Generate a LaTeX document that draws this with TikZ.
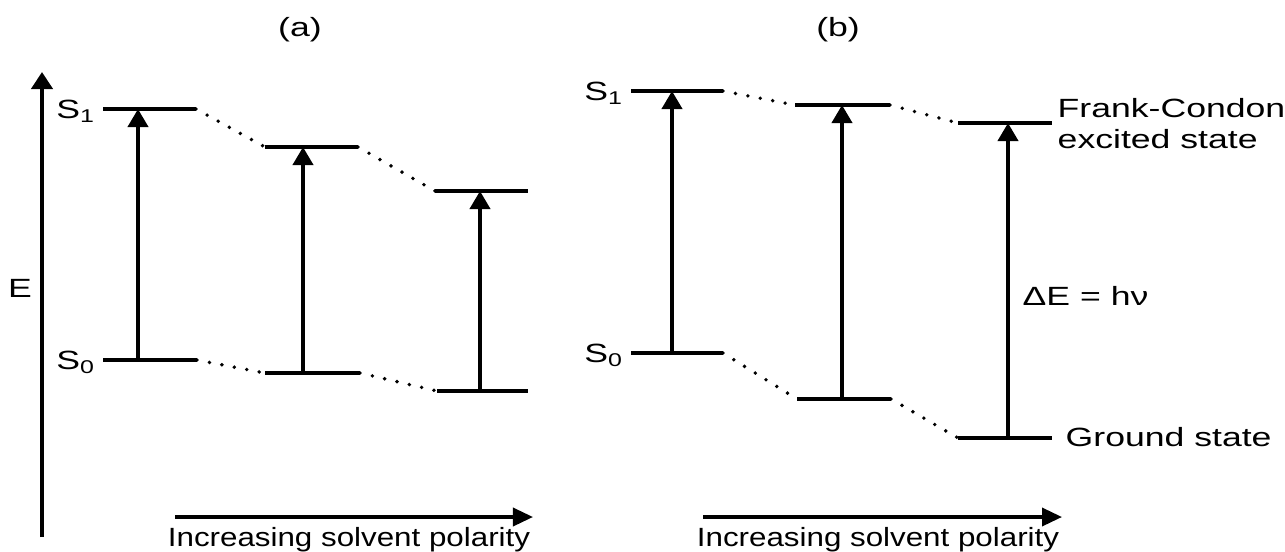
\documentclass[tikz,border=0pt]{standalone}
\usepackage{fontspec}
\setmainfont{Liberation Sans}
\usetikzlibrary{arrows.meta}

\begin{document}
\begin{tikzpicture}[x=0.01cm,y=-0.01cm,
  level/.style={line width=1pt},
  trans/.style={line width=1.1pt,-{Triangle[length=1.8mm,width=2mm]}},
  link/.style={line width=1.1pt,line cap=round,dash pattern=on 0pt off 3.6pt},
  lbl/.style={font=\fontsize{7.5}{8.8}\selectfont,xscale=1.35,transform shape,inner sep=1pt}]
  \useasboundingbox (0,0) rectangle (1285,551);
  % energy axis
  \coordinate (Ebot) at (42,537);
  \coordinate (Etop) at (42,72);
  \draw[line width=1.2pt,-{Triangle[length=1.7mm,width=2.1mm]}] (Ebot) -- (Etop);
  \node[lbl] (E) at (20,288) {E};
  \node[lbl] (ta) at (300,30) {(a)};
  \node[lbl] (tb) at (838,30) {(b)};
  % panel (a): levels
  \coordinate (a1u) at (103,109);  \coordinate (a1v) at (196,109);
  \coordinate (a1g) at (103,360);  \coordinate (a1h) at (197,360);
  \coordinate (a2u) at (265,147);  \coordinate (a2v) at (358,147);
  \coordinate (a2g) at (265,373);  \coordinate (a2h) at (360,373);
  \coordinate (a3u) at (435,191);  \coordinate (a3v) at (528,191);
  \coordinate (a3g) at (437,391);  \coordinate (a3h) at (528,391);
  \draw[level] (a1u) -- (a1v);
  \draw[level] (a1g) -- (a1h);
  \draw[level] (a2u) -- (a2v);
  \draw[level] (a2g) -- (a2h);
  \draw[level] (a3u) -- (a3v);
  \draw[level] (a3g) -- (a3h);
  \draw[link] (a1v) -- (a2u);
  \draw[link] (a2v) -- (a3u);
  \draw[link] (a1h) -- (a2g);
  \draw[link] (a2h) -- (a3g);
  \draw[trans] (138,360) -- (138,109);
  \draw[trans] (303,373) -- (303,147);
  \draw[trans] (480,391) -- (480,191);
  \node[lbl,anchor=base east] (aS1) at (102,118) {S\textsubscript{1}};
  \node[lbl,anchor=base east] (aS0) at (102,369) {S\textsubscript{0}};
  % panel (b): levels
  \coordinate (b1u) at (631,91);   \coordinate (b1v) at (723,91);
  \coordinate (b1g) at (631,353);  \coordinate (b1h) at (723,353);
  \coordinate (b2u) at (795,105);  \coordinate (b2v) at (890,105);
  \coordinate (b2g) at (797,399);  \coordinate (b2h) at (891,399);
  \coordinate (b3u) at (958,123);  \coordinate (b3v) at (1052,123);
  \coordinate (b3g) at (958,438);  \coordinate (b3h) at (1052,438);
  \draw[level] (b1u) -- (b1v);
  \draw[level] (b1g) -- (b1h);
  \draw[level] (b2u) -- (b2v);
  \draw[level] (b2g) -- (b2h);
  \draw[level] (b3u) -- (b3v);
  \draw[level] (b3g) -- (b3h);
  \draw[link] (b1v) -- (b2u);
  \draw[link] (b2v) -- (b3u);
  \draw[link] (b1h) -- (b2g);
  \draw[link] (b2h) -- (b3g);
  \draw[trans] (672,353) -- (672,91);
  \draw[trans] (842,399) -- (842,105);
  \draw[trans] (1008,438) -- (1008,123);
  \node[lbl,anchor=base east] (bS1) at (630,100) {S\textsubscript{1}};
  \node[lbl,anchor=base east] (bS0) at (630,362) {S\textsubscript{0}};
  \node[lbl,anchor=west,align=left] (fc) at (1052,124) {Frank-Condon\\excited state};
  \node[lbl,anchor=west] (gs) at (1060,437) {Ground state};
  \node[lbl,anchor=west] (dE) at (1017,296) {ΔE = hν};
  % solvent polarity
  \coordinate (pa1) at (175,517);  \coordinate (pa2) at (533,517);
  \coordinate (pb1) at (703,517);  \coordinate (pb2) at (1062,517);
  \draw[line width=1pt,-{Triangle[length=2mm,width=1.8mm]}] (pa1) -- (pa2);
  \draw[line width=1pt,-{Triangle[length=2mm,width=1.8mm]}] (pb1) -- (pb2);
  \node[lbl,xscale=0.88] (pola) at (349,540) {Increasing solvent polarity};
  \node[lbl,xscale=0.88] (polb) at (878,540) {Increasing solvent polarity};
\end{tikzpicture}
\end{document}
